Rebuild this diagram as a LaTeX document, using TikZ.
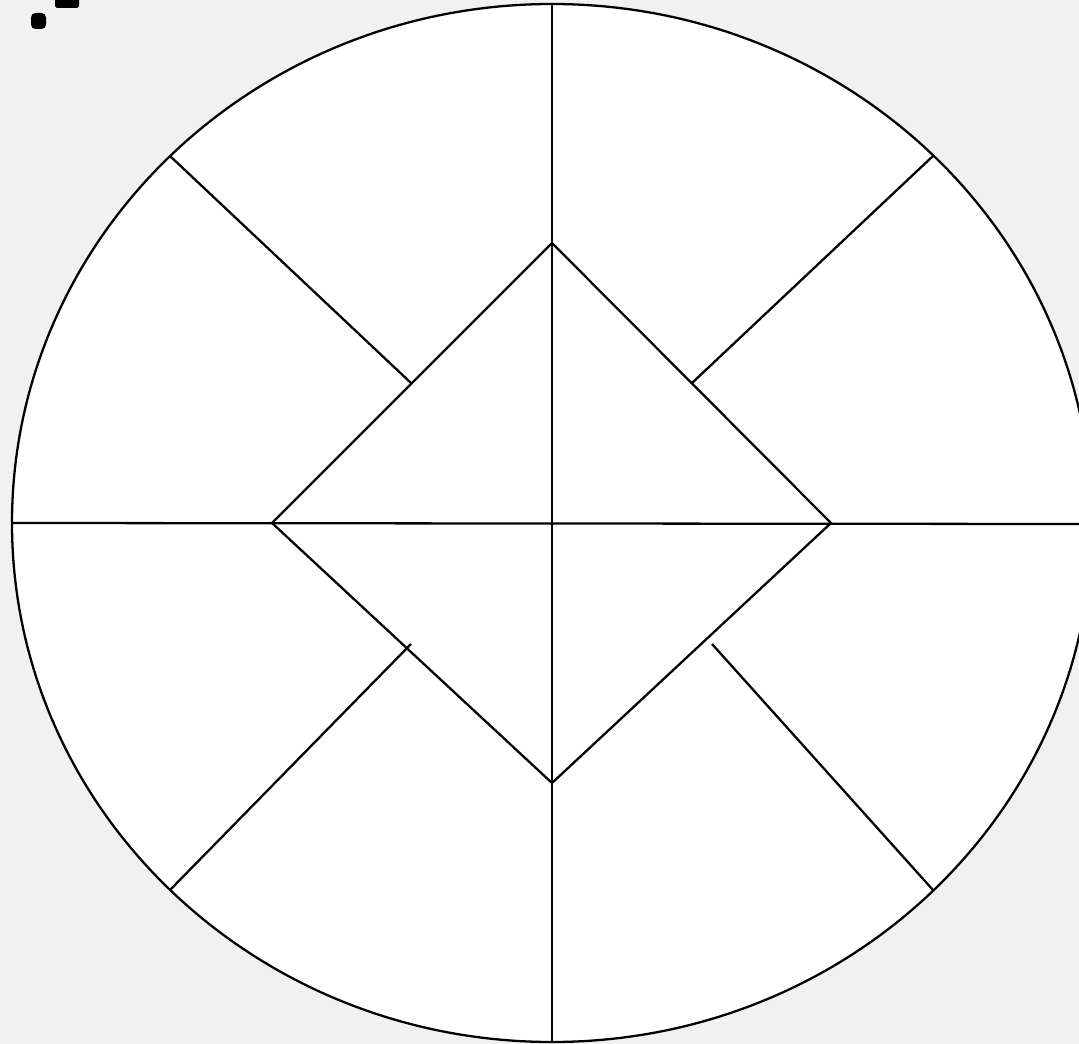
\documentclass[tikz,border=0pt]{standalone}
\definecolor{bg}{HTML}{F1F1F1}
\tikzset{
  ln/.style={black, line width=1.3pt},
}
\begin{document}
\begin{tikzpicture}[x=0.02cm,y=-0.02cm]
\fill[bg] (0,0) rectangle (1079,1044);
\useasboundingbox (0,0) rectangle (1079,1044);
\clip (0,0) rectangle (1079,1044);
% marks at top left
\fill[black, rounded corners=2.5pt] (31,13) rectangle (46,29);
\fill[black, rounded corners=1pt] (55,-2) rectangle (79,8);
% outer circle
\coordinate (C) at (552,523);
\filldraw[ln, fill=white] (C) ellipse [x radius=540, y radius=519];
% diamond vertices
\coordinate (T) at (552,243);
\coordinate (L) at (272,523);
\coordinate (R) at (831,523);
\coordinate (B) at (552,783);
\draw[ln, line join=miter] (T) -- (R) -- (B) -- (L) -- cycle;
% axes
\coordinate (top) at (552,4);
\coordinate (bot) at (552,1042);
\coordinate (left) at (12,523);
\coordinate (right) at (1085,524);
\draw[ln] (top) -- (bot);
\draw[ln] (left) -- (right);
% diagonals
\coordinate (tl) at (170,156);
\coordinate (tlin) at (411,383);
\coordinate (tr) at (933,156);
\coordinate (trin) at (692,383);
\coordinate (bl) at (170,890);
\coordinate (blin) at (411,644);
\coordinate (br) at (933,890);
\coordinate (brin) at (712,644);
\draw[ln] (tl) -- (tlin);
\draw[ln] (tr) -- (trin);
\draw[ln] (bl) -- (blin);
\draw[ln] (br) -- (brin);
\end{tikzpicture}
\end{document}
